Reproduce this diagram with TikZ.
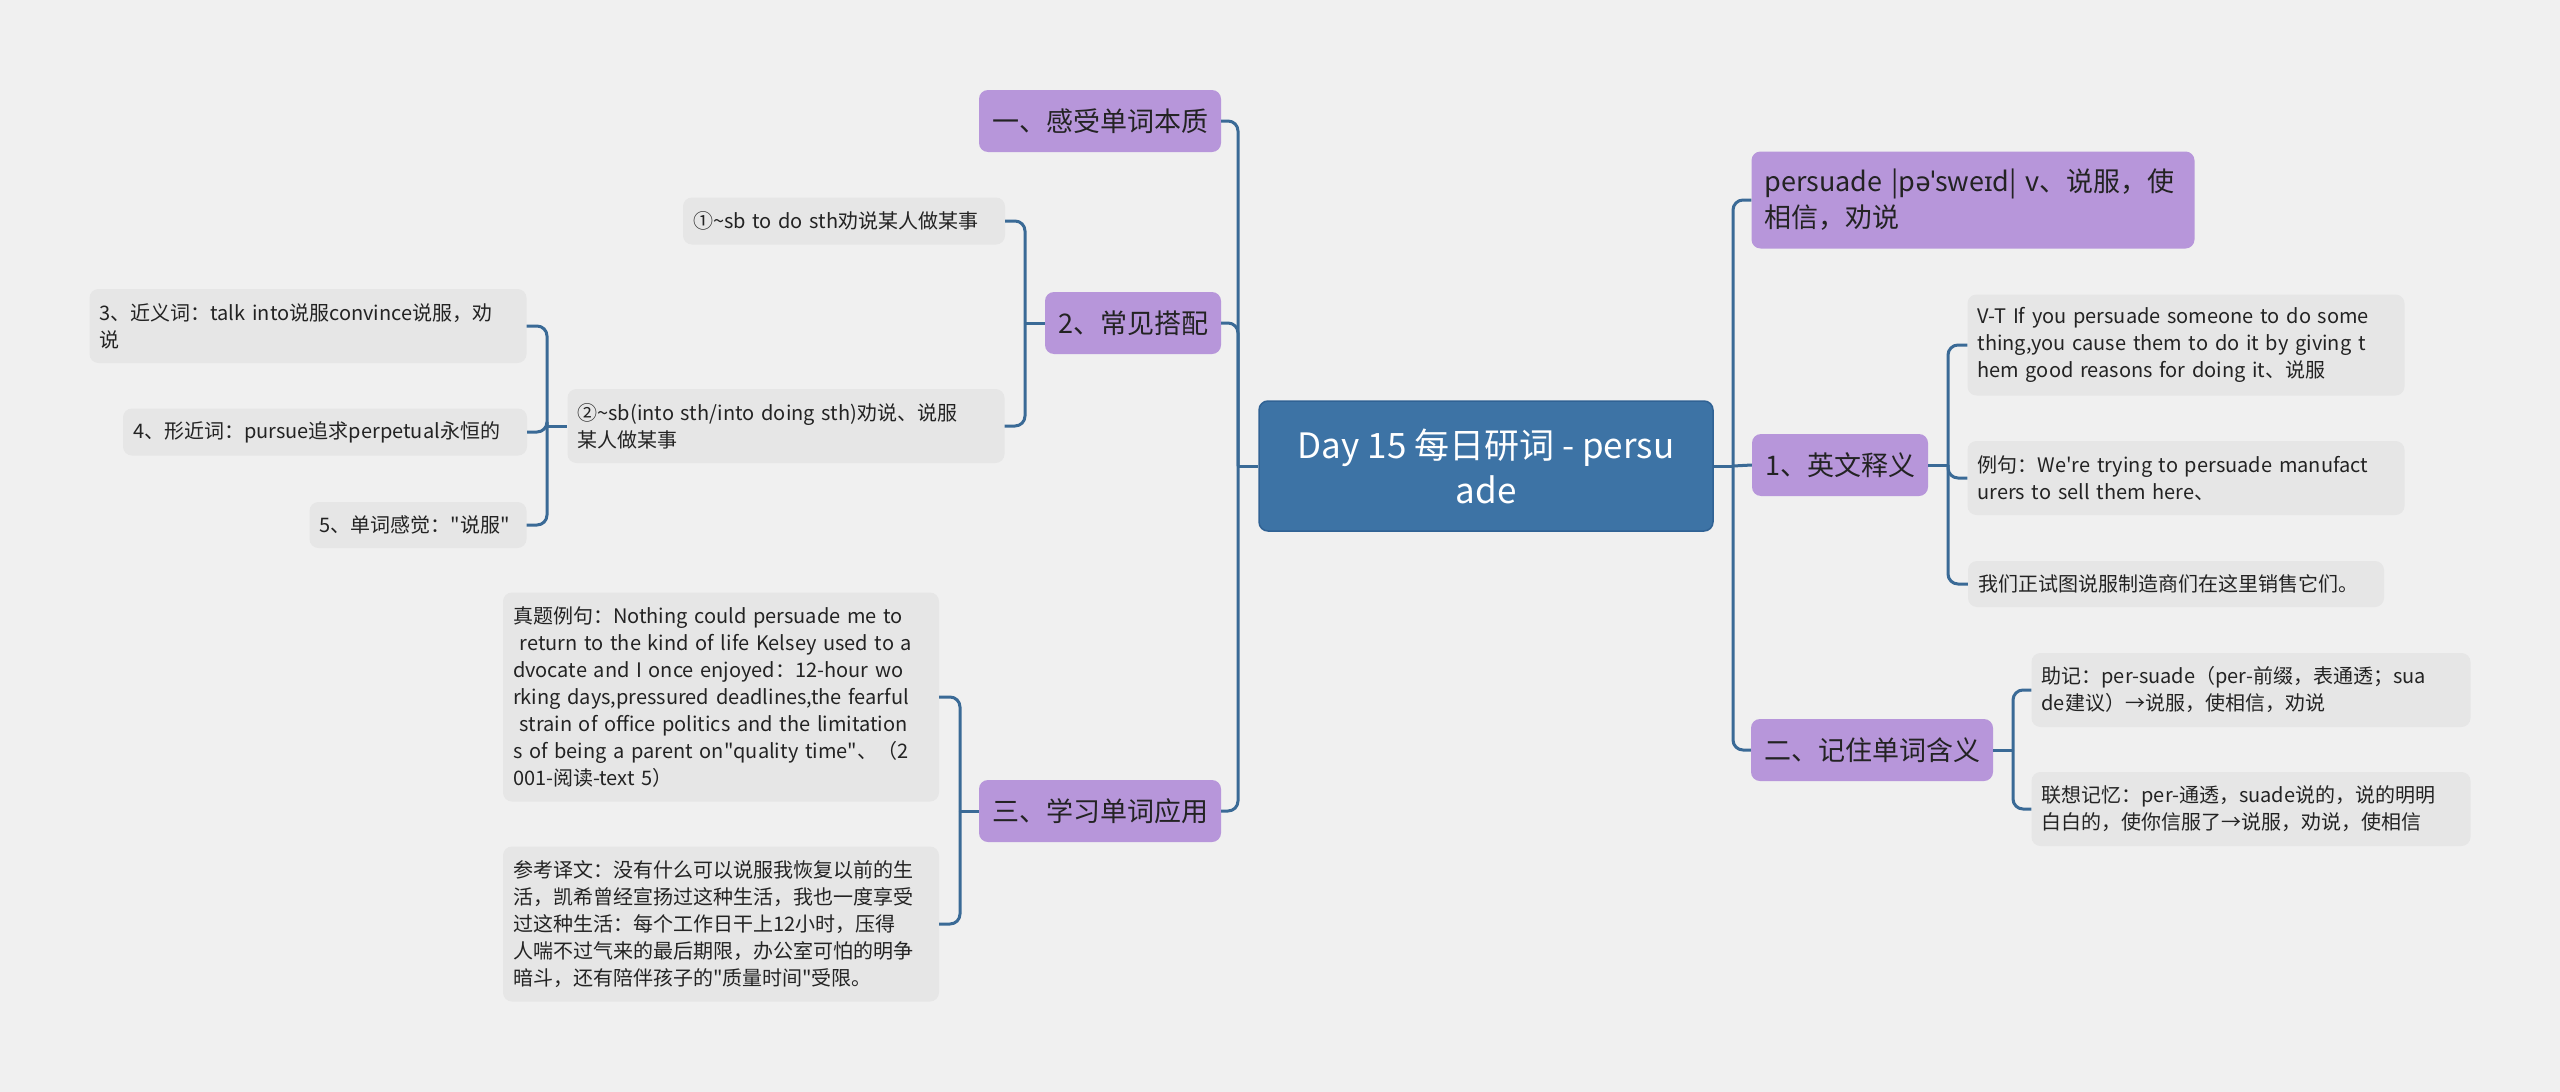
\documentclass[tikz,border=0pt]{standalone}
\usepackage{fontspec}
\setmainfont{Noto Sans CJK SC}
\newfontfamily\ipafont{Noto Sans}
\definecolor{paper}{RGB}{240,240,240}
\definecolor{daybg}{RGB}{61,115,165}
\definecolor{dayrim}{RGB}{48,98,148}
\definecolor{topicbg}{RGB}{183,150,218}
\definecolor{leafbg}{RGB}{230,230,230}
\definecolor{wireblue}{RGB}{58,106,150}
\definecolor{ink}{RGB}{35,35,35}
\tikzset{
    daybox/.style={fill=daybg, draw=dayrim, line width=1.5pt, rounded corners=9pt, text=white,
        font=\fontsize{35}{45}\selectfont, align=center, inner sep=0pt,
        minimum width=454pt, minimum height=130pt},
    topic/.style={fill=topicbg, rounded corners=9pt, text=ink, font=\fontsize{27}{36}\selectfont,
        inner xsep=13pt, inner ysep=3pt, minimum height=62pt},
    leaf/.style={fill=leafbg, rounded corners=9pt, text=ink, font=\fontsize{20}{27}\selectfont,
        align=left, inner xsep=10pt, inner ysep=3pt},
    wire/.style={draw=wireblue, line width=3pt, rounded corners=10pt},
}
\begin{document}
\begin{tikzpicture}[x=1pt, y=-1pt]
            \fill[paper] (0,0) rectangle (2560,1092);
            \useasboundingbox (0,0) rectangle (2560,1092);

            \node[daybox] (day) at (1486,466) {Day 15 每日研词 - persu\\ade};

            \node[topic, minimum width=241pt] (ganshou) at (1100,121) {一、感受单词本质};
            \node[topic, minimum width=176pt] (dapei) at (1133,323) {2、常见搭配};
            \node[topic, minimum width=240pt] (yingyong) at (1100,811) {三、学习单词应用};
            \node[topic, text width=417pt, align=left, minimum height=97pt] (fayin) at (1973,200)
                {persuade |p{\ipafont əˈ}swe{\ipafont ɪ}d| v、说服，使\\相信，劝说};
            \node[topic, minimum width=176pt] (shiyi) at (1840,465) {1、英文释义};
            \node[topic, minimum width=240pt] (hanyi) at (1872,750) {二、记住单词含义};

            \node[leaf, text width=302pt, minimum height=47pt] (dpone) at (844,221) {①\textasciitilde sb to do sth劝说某人做某事};
            \node[leaf, text width=417pt, minimum height=74pt] (dptwo) at (786,426) {②\textasciitilde sb(into sth/into doing sth)劝说、说服\\某人做某事};
            \node[leaf, text width=417pt, minimum height=74pt] (jinyi) at (308,326) {3、近义词：talk into说服convince说服，劝\\说};
            \node[leaf, text width=384pt, minimum height=47pt] (xingjin) at (325,432) {4、形近词：pursue追求perpetual永恒的};
            \node[leaf, text width=197pt, minimum height=46pt] (ganjue) at (418,525) {5、单词感觉：\textquotedbl 说服\textquotedbl};

            \node[leaf, text width=416pt, minimum height=209pt] (zhenti) at (721,697) {真题例句：Nothing could persuade me to\\\ return to the kind of life Kelsey used to a\\dvocate and I once enjoyed：12-hour wo\\rking days,pressured deadlines,the fearful\\\ strain of office politics and the limitation\\\mbox{s of being a parent on\textquotedbl quality time\textquotedbl 、（2}\\001-阅读-text 5）};
            \node[leaf, text width=416pt, minimum height=155pt] (yiwen) at (721,924) {参考译文：没有什么可以说服我恢复以前的生\\活，凯希曾经宣扬过这种生活，我也一度享受\\过这种生活：每个工作日干上12小时，压得\\人喘不过气来的最后期限，办公室可怕的明争\\暗斗，还有陪伴孩子的\textquotedbl 质量时间\textquotedbl 受限。};

            \node[leaf, text width=417pt, minimum height=101pt] (vt) at (2186,345) {V-T If you persuade someone to do some\\thing,you cause them to do it by giving t\\hem good reasons for doing it、说服};
            \node[leaf, text width=417pt, minimum height=74pt] (liju) at (2186,478) {例句：We\textquotesingle re trying to persuade manufact\\urers to sell them here、};
            \node[leaf, text width=396pt, minimum height=46pt] (lijucn) at (2176,584) {我们正试图说服制造商们在这里销售它们。};
            \node[leaf, text width=419pt, minimum height=74pt] (zhuji) at (2251,690) {助记：per-suade（per-前缀，表通透；sua\\de建议）→说服，使相信，劝说};
            \node[leaf, text width=419pt, minimum height=74pt] (lianxiang) at (2251,809) {联想记忆：per-通透，suade说的，说的明明\\白白的，使你信服了→说服，劝说，使相信};

            \coordinate (lt) at (1238,466);
            \coordinate (rt) at (1733,466);
            \coordinate (dpt) at (1025,323);
            \coordinate (twot) at (547,426);
            \coordinate (yyt) at (960,811);
            \coordinate (syt) at (1948,465);
            \coordinate (hyt) at (2013,750);

            \draw[wire] (lt) -- (day.west);
            \draw[wire] (ganshou.east) -| (lt);
            \draw[wire] (dapei.east) -| (lt);
            \draw[wire] (yingyong.east) -| (lt);
            \draw[wire] (day.east) -- (rt);
            \draw[wire] (rt) |- (fayin.west);
            \draw[wire] (rt) -- (shiyi.west);
            \draw[wire] (rt) |- (hanyi.west);

            \draw[wire] (dpt) -- (dapei.west);
            \draw[wire] (dpone.east) -| (dpt);
            \draw[wire] (dptwo.east) -| (dpt);
            \draw[wire] (twot) -- (dptwo.west);
            \draw[wire] (jinyi.east) -| (twot);
            \draw[wire] (xingjin.east) -| (twot);
            \draw[wire] (ganjue.east) -| (twot);

            \draw[wire] (yyt) -- (yingyong.west);
            \draw[wire] (zhenti.east) -| (yyt);
            \draw[wire] (yiwen.east) -| (yyt);

            \draw[wire] (shiyi.east) -- (syt);
            \draw[wire] (syt) |- (vt.west);
            \draw[wire] (syt) |- (liju.west);
            \draw[wire] (syt) |- (lijucn.west);
            \draw[wire] (hanyi.east) -- (hyt);
            \draw[wire] (hyt) |- (zhuji.west);
            \draw[wire] (hyt) |- (lianxiang.west);
\end{tikzpicture}
\end{document}
